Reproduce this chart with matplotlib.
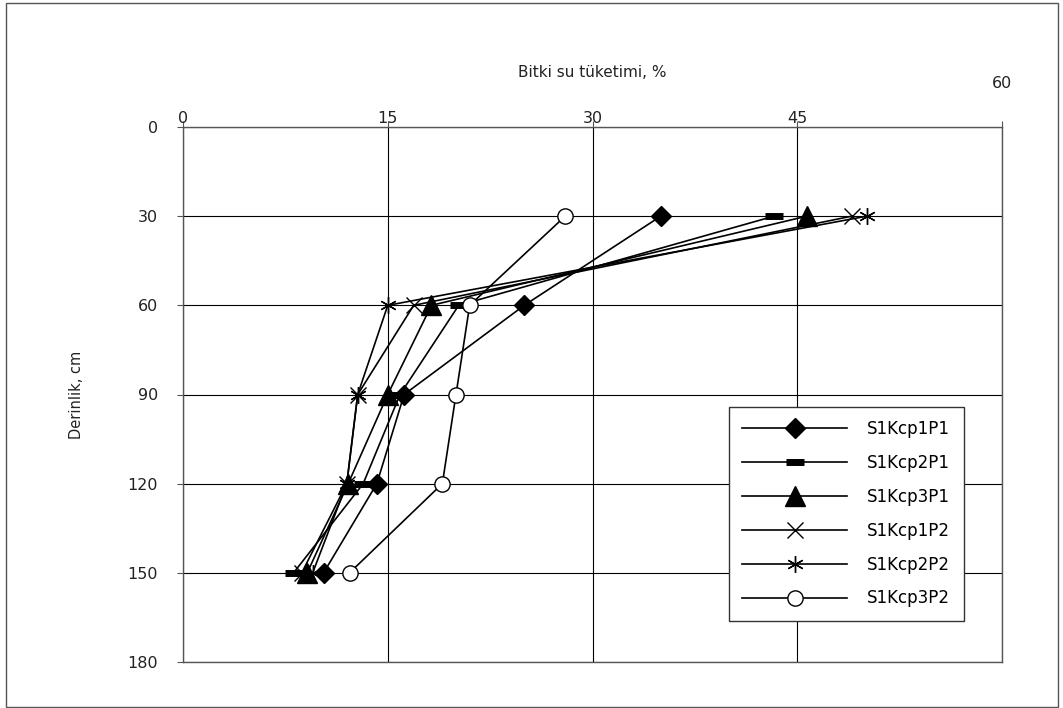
import matplotlib
matplotlib.use('Agg')
import matplotlib.pyplot as plt
from matplotlib.patches import Rectangle

plt.rcParams['font.family'] = ['DejaVu Sans']

depth = [30, 60, 90, 120, 150]
series_names = ['S1Kcp1P1', 'S1Kcp2P1', 'S1Kcp3P1', 'S1Kcp1P2', 'S1Kcp2P2', 'S1Kcp3P2']
s1kcp1p1 = [35.0, 25.0, 16.2, 14.2, 10.3]
s1kcp2p1 = [43.3, 20.2, 15.9, 13.2, 8.1]
s1kcp3p1 = [45.7, 18.2, 15.0, 12.1, 9.1]
s1kcp1p2 = [49.0, 16.9, 12.8, 12.0, 8.7]
s1kcp2p2 = [50.1, 15.0, 12.8, 12.0, 9.5]
s1kcp3p2 = [28.0, 21.0, 20.0, 19.0, 12.2]
x_ticks = [0, 15, 30, 45, 60]
y_ticks = [0, 30, 60, 90, 120, 150, 180]

W, H = 1063, 708
fig = plt.figure(figsize=(W / 100, H / 100), dpi=100)
ax = fig.add_axes([183 / W, 1 - 662 / H, (1002 - 183) / W, (662 - 127) / H])

# marker styles: diamond, dash, triangle, x, asterisk, open circle
styles = [
    dict(marker='D', markersize=10, mfc='black', mec='black'),
    dict(marker='_', markersize=13, markeredgewidth=5, mec='black'),
    dict(marker='^', markersize=14, mfc='black', mec='black'),
    dict(marker='x', markersize=11, markeredgewidth=1, mec='black'),
    dict(marker=(6, 2, 0), markersize=12, markeredgewidth=1, mec='black'),
    dict(marker='o', markersize=11, mfc='white', mec='black', markeredgewidth=1),
]
all_series = [s1kcp1p1, s1kcp2p1, s1kcp3p1, s1kcp1p2, s1kcp2p2, s1kcp3p2]
for vals, name, st in zip(all_series, series_names, styles):
    ax.plot(vals, depth, color='black', lw=1.2, label=name, **st)

ax.set_xlim(0, 60)
ax.set_ylim(180, 0)
ax.set_xticks(x_ticks)
ax.set_yticks(y_ticks)
ax.xaxis.tick_top()
ax.grid(True, color='black', lw=0.8)
ax.set_axisbelow(True)
for sp in ax.spines.values():
    sp.set_color('#555555')
    sp.set_linewidth(1)

ax.tick_params(axis='x', direction='out', length=4, width=0.8, color='#555555',
               pad=-3, labelsize=11.5, labelcolor='#222222')
ax.tick_params(axis='y', direction='out', length=4, width=0.8, color='#555555',
               pad=14, labelsize=11.5, labelcolor='#222222')
ax.xaxis.get_major_ticks()[-1].set_pad(22)

# axis title sits above the tick labels, placed by hand
ax.text(0.5, 1.101, 'Bitki su tüketimi, %', transform=ax.transAxes,
        ha='center', va='center', fontsize=11, color='#222222')
ax.set_ylabel('Derinlik, cm', fontsize=10.5, color='#222222', labelpad=31)

leg = ax.legend(loc='upper left', bbox_to_anchor=(729 / W, 1 - 407 / H),
                bbox_transform=fig.transFigure, borderaxespad=0,
                fontsize=12, handlelength=6.3, handletextpad=1.2,
                labelspacing=0.95, borderpad=0.8, numpoints=1,
                fancybox=False, framealpha=1, edgecolor='#333333')
leg.get_frame().set_linewidth(1)

fig.patches.append(Rectangle((6 / W, 1 / H), 1052 / W, 704 / H, transform=fig.transFigure,
                             fill=False, edgecolor='#555555', lw=1))

fig.savefig('out.png', dpi=100)
